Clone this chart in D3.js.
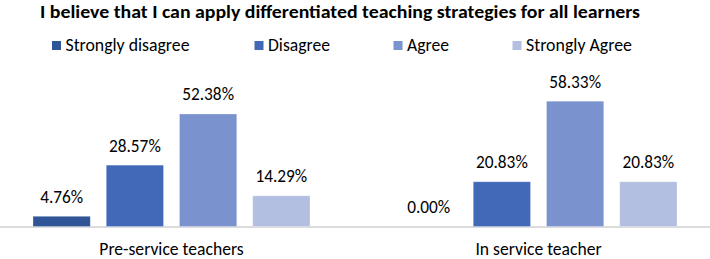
<!DOCTYPE html>
<html><head><meta charset="utf-8">
<script src="https://cdn.jsdelivr.net/npm/d3@7"></script>
<style>body{margin:0;background:#fff}svg{display:block}text{font-family:Carlito,Calibri,"Liberation Sans",sans-serif;fill:#000}</style>
</head><body><svg id="c" width="710" height="259"></svg>
<script>
const title = "I believe that I can apply differentiated teaching strategies for all learners";
const groups = ["Pre-service teachers", "In service teacher"];
const series = ["Strongly disagree", "Disagree", "Agree", "Strongly Agree"];
const colors = ["#2f5597", "#4169b8", "#7a93cf", "#b3bfe0"];
const preService = [4.76, 28.57, 52.38, 14.29];
const inService = [0.00, 20.83, 58.33, 20.83];
const values = [preService, inService];

const svg = d3.select("#c");
const baseY = 226.5;
const y = d3.scaleLinear().domain([0, 60]).range([baseY, baseY - 60 * 2.148]);
const x0 = d3.scaleBand().domain(groups).range([-12, 722]).paddingInner(0);
const x1 = d3.scaleBand().domain(series).range([45, 322]).paddingInner(0.218).paddingOuter(0);

svg.append("text").attr("x", 40).attr("y", 17.5).attr("font-weight", "bold")
  .attr("font-size", 18.7).attr("textLength", 600).attr("lengthAdjust", "spacingAndGlyphs").text(title);

const legX = [52, 254.5, 393.5, 512.5];
const legW = [124, 62, 42, 106];
const leg = svg.append("g");
series.forEach((s, i) => {
  leg.append("rect").attr("x", legX[i]).attr("y", 41).attr("width", 9).attr("height", 9).attr("fill", colors[i]);
  leg.append("text").attr("x", legX[i] + 13.5).attr("y", 51).attr("font-size", 17.3)
    .attr("textLength", legW[i]).attr("lengthAdjust", "spacingAndGlyphs").text(s);
});

svg.append("line").attr("x1", 0).attr("x2", 710).attr("y1", baseY + 0.5).attr("y2", baseY + 0.5)
  .attr("stroke", "#d0d0d0").attr("stroke-width", 1.5);

groups.forEach((g, gi) => {
  const gg = svg.append("g").attr("transform", `translate(${x0(g)},0)`);
  series.forEach((s, si) => {
    const v = values[gi][si];
    if (v > 0) {
      gg.append("rect").attr("x", x1(s)).attr("width", x1.bandwidth())
        .attr("y", y(v)).attr("height", baseY - y(v)).attr("fill", colors[si])
        .attr("stroke", "#ffffff").attr("stroke-opacity", 0.35).attr("stroke-width", 0.8);
    }
    gg.append("text").attr("x", x1(s) + x1.bandwidth() / 2).attr("y", y(v) - 13.5)
      .attr("text-anchor", "middle").attr("font-size", 17.3).text(v.toFixed(2) + "%");
  });
  svg.append("text").attr("x", x0(g) + x0.bandwidth() / 2).attr("y", 254.5)
    .attr("text-anchor", "middle").attr("font-size", 17.6).text(g);
});
</script></body></html>
